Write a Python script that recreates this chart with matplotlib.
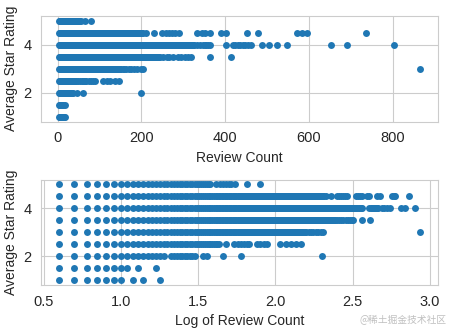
import numpy as np
import matplotlib
matplotlib.use("Agg")
import matplotlib.pyplot as plt
import seaborn as sns

sns.set_style("whitegrid")
plt.rcParams['font.family'] = ['Liberation Sans', 'DejaVu Sans']

# Star rating levels
ratings = [1.0, 1.5, 2.0, 2.5, 3.0, 3.5, 4.0, 4.5, 5.0]

# Each row of the scatter is solid from the minimum count up to this value
min_count = 4
solid_max = [0, 0, 19, 43, 150, 240, 325, 200, 38]

extra_1_0 = [4, 5, 6, 7, 8, 9, 10, 12, 14, 18]
extra_1_5 = [4, 5, 6, 7, 8, 9, 10, 11, 13, 17]
extra_2_0 = [21, 22, 23, 24, 25, 26, 27, 28, 29, 30, 34, 36, 46, 60, 199]
extra_2_5 = [48, 54, 57, 60, 63, 66, 68, 76, 80, 84, 88, 108, 117, 126, 136, 146]
extra_3_0 = [155, 158, 164, 170, 176, 183, 190, 198, 204, 866]
extra_3_5 = [245, 252, 260, 267, 275, 288, 295, 304, 312, 318, 363, 413]
extra_4_0 = [333, 340, 346, 351, 355, 359, 363, 401, 418, 424, 430, 436, 442,
             448, 454, 462, 488, 504, 525, 549, 653, 691, 804]
extra_4_5 = [205, 212, 229, 250, 258, 266, 273, 281, 290,
             333, 344, 351, 363, 391, 403, 452, 478, 572, 584, 596, 736]
extra_5_0 = [41, 44, 46, 48, 50, 52, 55, 66, 79]

extras = [extra_1_0, extra_1_5, extra_2_0, extra_2_5, extra_3_0,
          extra_3_5, extra_4_0, extra_4_5, extra_5_0]

counts = []
stars = []
for r, top, extra in zip(ratings, solid_max, extras):
    row = list(range(min_count, top + 1)) + extra
    counts += row
    stars += [r] * len(row)
counts = np.array(counts)
stars = np.array(stars)

fig, (ax1, ax2) = plt.subplots(2, 1, figsize=(4.49, 3.32), dpi=100)
fig.subplots_adjust(left=0.092, right=0.976, top=0.952, bottom=0.141, hspace=0.55)

ax1.scatter(counts, stars, s=25, linewidths=0, color='#1f77b4')
ax1.set_xlabel('Review Count', fontsize=10)
ax1.set_ylabel('Average Star Rating', fontsize=10)
ax1.set_yticks([2, 4])
ax1.set_xticks([0, 200, 400, 600, 800])

ax2.scatter(np.log10(counts), stars, s=25, linewidths=0, color='#1f77b4')
ax2.set_xlabel('Log of Review Count', fontsize=10)
ax2.set_ylabel('Average Star Rating', fontsize=10)
ax2.set_yticks([2, 4])

for ax in (ax1, ax2):
    ax.tick_params(labelsize=10.5)

fig.text(0.995, 0.02, '@稀土掘金技术社区', ha='right', va='bottom', fontsize=7,
         color='#c0c0c0', family=['Noto Sans CJK SC', 'DejaVu Sans'])

fig.savefig('out.png', dpi=100)
